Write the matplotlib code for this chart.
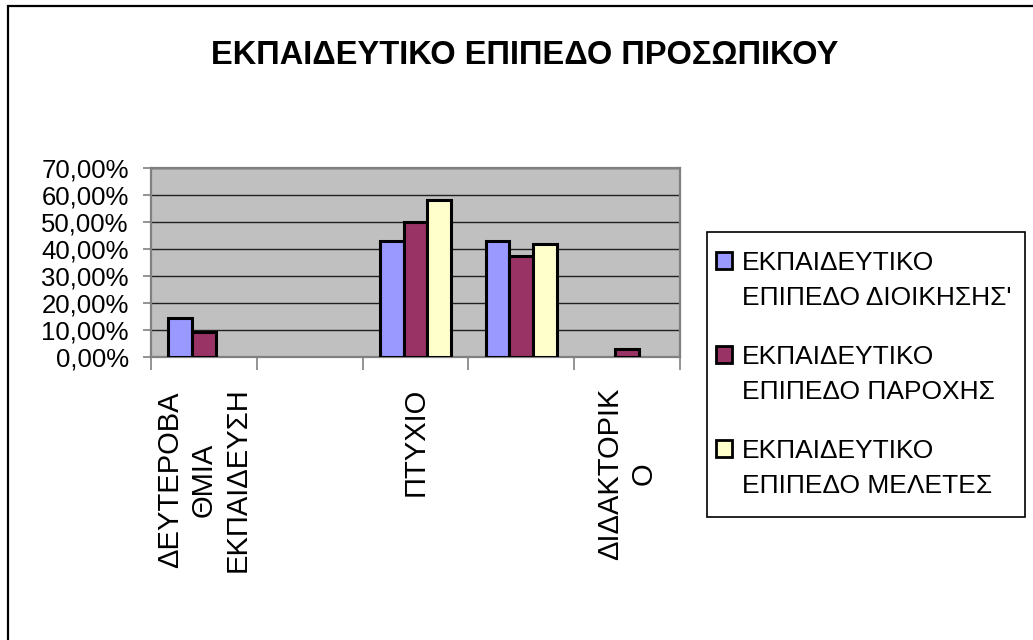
import matplotlib
matplotlib.use("Agg")
from matplotlib import pyplot as plt
from matplotlib.patches import Rectangle
import numpy as np

categories = ["ΔΕΥΤΕΡΟΒΑ\nΘΜΙΑ\nΕΚΠΑΙΔΕΥΣΗ", "", "ΠΤΥΧΙΟ", "", "ΔΙΔΑΚΤΟΡΙΚ\nΟ"]
series_names = ["ΕΚΠΑΙΔΕΥΤΙΚΟ\nΕΠΙΠΕΔΟ ΔΙΟΙΚΗΣΗΣ'",
                "ΕΚΠΑΙΔΕΥΤΙΚΟ\nΕΠΙΠΕΔΟ ΠΑΡΟΧΗΣ",
                "ΕΚΠΑΙΔΕΥΤΙΚΟ\nΕΠΙΠΕΔΟ ΜΕΛΕΤΕΣ"]
dioikisi = [0.1429, 0.0, 0.4286, 0.4286, 0.0]
paroxi = [0.09375, 0.0, 0.50, 0.375, 0.03125]
meletes = [0.0, 0.0, 0.5833, 0.4167, 0.0]
colors = ["#9999FF", "#993366", "#FFFFCC"]
yticks = [0.0, 0.1, 0.2, 0.3, 0.4, 0.5, 0.6, 0.7]
title = "ΕΚΠΑΙΔΕΥΤΙΚΟ ΕΠΙΠΕΔΟ ΠΡΟΣΩΠΙΚΟΥ"

plt.rcParams['font.family'] = ['Liberation Sans', 'DejaVu Sans']

W, H = 1033, 640
fig = plt.figure(figsize=(W / 100, H / 100), dpi=100)

# outer chart border (only left/top visible)
fig.patches.append(Rectangle((8 / W, -0.1), 1.2, 1 - 6 / H + 0.1, transform=fig.transFigure,
                             fill=False, edgecolor="black", lw=1.6))

ax = fig.add_axes([151 / W, 1 - 357 / H, (680 - 151) / W, (357 - 168) / H])
ax.set_facecolor("#C0C0C0")

x = np.arange(len(categories))
w = 0.224
for i, vals in enumerate([dioikisi, paroxi, meletes]):
    v = np.array(vals)
    keep = v > 0  # Excel draws nothing for empty cells
    ax.bar(x[keep] + (i - 1) * w, v[keep], w, color=colors[i], edgecolor="black", lw=2.2, zorder=3)

ax.set_xlim(-0.5, len(categories) - 0.5)
ax.set_ylim(0, 0.7)
ax.set_yticks(yticks)
ax.set_yticklabels([("%.2f%%" % (v * 100)).replace(".", ",") for v in yticks], fontsize=18.5)
ax.yaxis.grid(True, color="#202020", lw=1.0, zorder=1)
ax.tick_params(axis="y", length=6, width=1.2, color="#808080", pad=10)

ax.set_xticks(np.arange(len(categories) + 1) - 0.5)
ax.set_xticklabels([])
ax.tick_params(axis="x", which="major", length=9, width=1.2, color="#808080")
ax.set_xticks(x, categories, minor=True)
ax.tick_params(axis="x", which="minor", length=0, pad=22)
for lab in ax.get_xticklabels(minor=True):
    lab.set_rotation(90)
    lab.set_fontsize(21)
    lab.set_va("top")
    lab.set_ha("center")
    lab.set_multialignment("center")
    lab.set_linespacing(1.25)

for s in ax.spines.values():
    s.set_color("#808080")
    s.set_linewidth(1.6)

fig.text(525 / W, 1 - 55 / H, title, ha="center", va="center",
         fontweight="bold", fontsize=23.5)

# legend drawn by hand so that the swatch sits on the first line
fig.patches.append(Rectangle((707 / W, 1 - 517 / H), (1025 - 707) / W, (517 - 232) / H,
                             transform=fig.transFigure, fill=False, edgecolor="black", lw=1.2))
for i, name in enumerate(series_names):
    y0 = 252 + 94 * i
    fig.patches.append(Rectangle((716 / W, 1 - (y0 + 17) / H), 16 / W, 17 / H,
                                 transform=fig.transFigure, facecolor=colors[i],
                                 edgecolor="black", lw=2))
    for j, line in enumerate(name.split("\n")):
        fig.text(742 / W, 1 - (y0 + 18 + 35 * j) / H, line, ha="left", va="baseline",
                 fontsize=19)

fig.savefig("out.png", dpi=100)
